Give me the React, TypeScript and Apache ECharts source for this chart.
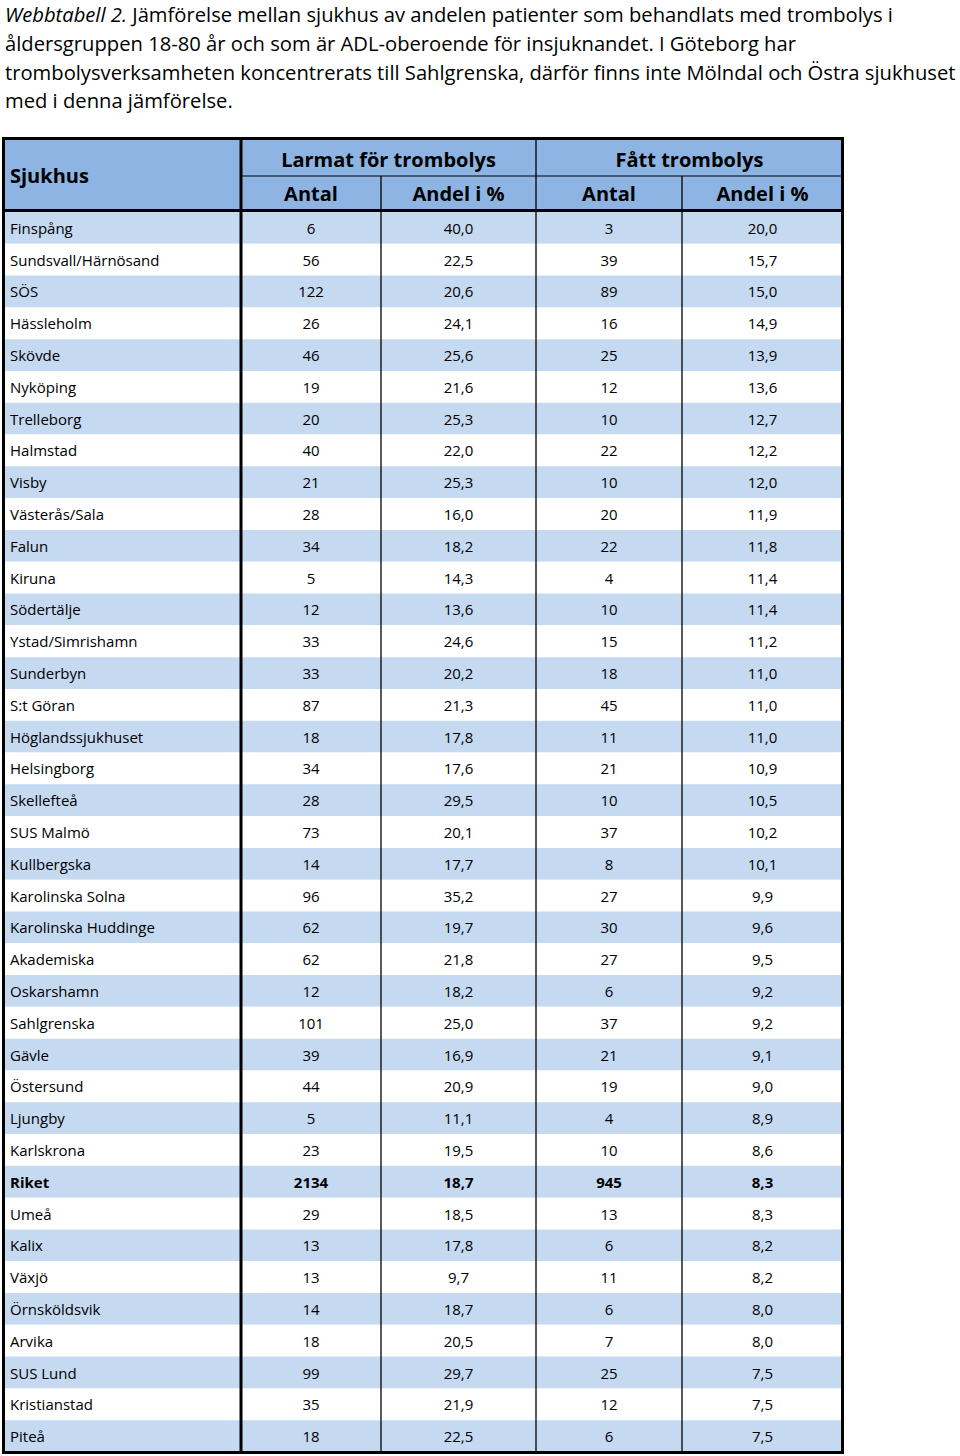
import React, { useEffect, useRef } from "react";
import * as echarts from "echarts";

const titleLines = [
  "{i|Webbtabell 2.} Jämförelse mellan sjukhus av andelen patienter som behandlats med trombolys i",
  "åldersgruppen 18-80 år och som är ADL-oberoende för insjuknandet. I Göteborg har",
  "trombolysverksamheten koncentrerats till Sahlgrenska, därför finns inte Mölndal och Östra sjukhuset",
  "med i denna jämförelse.",
];

const firstHeader = "Sjukhus";
const headerGroups = ["Larmat för trombolys", "Fått trombolys"];
const subHeaders = ["Antal", "Andel i %", "Antal", "Andel i %"];

const hospitals = [
  "Finspång", "Sundsvall/Härnösand", "SÖS", "Hässleholm", "Skövde", "Nyköping", "Trelleborg",
  "Halmstad", "Visby", "Västerås/Sala", "Falun", "Kiruna", "Södertälje", "Ystad/Simrishamn",
  "Sunderbyn", "S:t Göran", "Höglandssjukhuset", "Helsingborg", "Skellefteå", "SUS Malmö",
  "Kullbergska", "Karolinska Solna", "Karolinska Huddinge", "Akademiska", "Oskarshamn",
  "Sahlgrenska", "Gävle", "Östersund", "Ljungby", "Karlskrona", "Riket", "Umeå", "Kalix",
  "Växjö", "Örnsköldsvik", "Arvika", "SUS Lund", "Kristianstad", "Piteå",
];
const larmatAntal = [
  6, 56, 122, 26, 46, 19, 20, 40, 21, 28, 34, 5, 12, 33, 33, 87, 18, 34, 28, 73,
  14, 96, 62, 62, 12, 101, 39, 44, 5, 23, 2134, 29, 13, 13, 14, 18, 99, 35, 18,
];
const larmatAndel = [
  40.0, 22.5, 20.6, 24.1, 25.6, 21.6, 25.3, 22.0, 25.3, 16.0, 18.2, 14.3, 13.6, 24.6, 20.2,
  21.3, 17.8, 17.6, 29.5, 20.1, 17.7, 35.2, 19.7, 21.8, 18.2, 25.0, 16.9, 20.9, 11.1, 19.5,
  18.7, 18.5, 17.8, 9.7, 18.7, 20.5, 29.7, 21.9, 22.5,
];
const fattAntal = [
  3, 39, 89, 16, 25, 12, 10, 22, 10, 20, 22, 4, 10, 15, 18, 45, 11, 21, 10, 37,
  8, 27, 30, 27, 6, 37, 21, 19, 4, 10, 945, 13, 6, 11, 6, 7, 25, 12, 6,
];
const fattAndel = [
  20.0, 15.7, 15.0, 14.9, 13.9, 13.6, 12.7, 12.2, 12.0, 11.9, 11.8, 11.4, 11.4, 11.2, 11.0,
  11.0, 11.0, 10.9, 10.5, 10.2, 10.1, 9.9, 9.6, 9.5, 9.2, 9.2, 9.1, 9.0, 8.9, 8.6,
  8.3, 8.3, 8.2, 8.2, 8.0, 8.0, 7.5, 7.5, 7.5,
];
const boldRows = ["Riket"];

const FONT = "'Open Sans', 'Noto Sans', sans-serif";
const HEADER_BG = "#8db4e2";
const ROW_BG = "#c5d9f1";
// column edges (in px, relative to table left)
const EDGES = [0, 239, 379, 534, 680, 841];
const TABLE_LEFT = 2;

const fmt = (v: number) => v.toFixed(1).replace(".", ",");

export default function App() {
  const ref = useRef<HTMLDivElement>(null);
  useEffect(() => {
    if (!ref.current) return;
    const chart = echarts.init(ref.current, undefined, { renderer: "svg" });
    const data = hospitals.map((_, i) => [i, larmatAntal[i], larmatAndel[i], fattAntal[i], fattAndel[i]]);
    const abs = (e: number) => TABLE_LEFT + e;
    const tableTop = 138.5;
    const tableBottom = 1452.5;
    const headerMid = 176;
    const headerBottom = 210.5;
    const headStyle = { fontFamily: FONT, fontSize: 20, fontWeight: "bold", fill: "#000", verticalAlign: "middle" };

    const graphic: any[] = [
      { type: "rect", z: 50, shape: { x: 2, y: 139, width: 841, height: 72 }, style: { fill: HEADER_BG } },
      { type: "text", z: 60, x: 10, y: 175, style: { ...headStyle, text: firstHeader, align: "left" } },
      ...headerGroups.map((t, g) => ({
        type: "text", z: 60,
        x: (abs(EDGES[1 + g * 2]) + abs(EDGES[3 + g * 2])) / 2, y: 159,
        style: { ...headStyle, text: t, align: "center" },
      })),
      ...subHeaders.map((t, c) => ({
        type: "text", z: 60,
        x: (abs(EDGES[1 + c]) + abs(EDGES[2 + c])) / 2, y: 193,
        style: { ...headStyle, text: t, align: "center" },
      })),
      // thin lines
      { type: "line", z: 70, shape: { x1: abs(EDGES[1]), y1: headerMid, x2: abs(EDGES[5]), y2: headerMid }, style: { stroke: "#000", lineWidth: 1 } },
      { type: "line", z: 70, shape: { x1: abs(EDGES[3]), y1: tableTop, x2: abs(EDGES[3]), y2: tableBottom }, style: { stroke: "#000", lineWidth: 1.3 } },
      { type: "line", z: 70, shape: { x1: abs(EDGES[2]), y1: headerMid, x2: abs(EDGES[2]), y2: tableBottom }, style: { stroke: "#000", lineWidth: 1.3 } },
      { type: "line", z: 70, shape: { x1: abs(EDGES[4]), y1: headerMid, x2: abs(EDGES[4]), y2: tableBottom }, style: { stroke: "#000", lineWidth: 1.3 } },
      // thick lines
      { type: "line", z: 80, shape: { x1: 3.5, y1: headerBottom, x2: 842.5, y2: headerBottom }, style: { stroke: "#000", lineWidth: 3 } },
      { type: "line", z: 80, shape: { x1: abs(EDGES[1]), y1: tableTop, x2: abs(EDGES[1]), y2: tableBottom }, style: { stroke: "#000", lineWidth: 3 } },
      { type: "rect", z: 80, shape: { x: 3.5, y: tableTop, width: 839, height: tableBottom - tableTop }, style: { fill: "none", stroke: "#000", lineWidth: 3 } },
    ];

    chart.setOption({
      animation: false,
      title: {
        text: titleLines.join("\n"),
        left: 5,
        top: 0,
        padding: 0,
        textStyle: {
          fontFamily: FONT, fontSize: 20.2, fontWeight: "normal", color: "#000", lineHeight: 28.7,
          rich: { i: { fontFamily: FONT, fontSize: 20.2, fontStyle: "italic", color: "#000", lineHeight: 28.7 } },
        },
      },
      grid: { left: TABLE_LEFT, top: 212, width: 841, height: 1240 },
      xAxis: { type: "value", min: 0, max: 841, show: false },
      yAxis: { type: "category", data: hospitals, inverse: true, show: false },
      graphic,
      series: [
        {
          type: "custom",
          clip: false,
          encode: { x: 1, y: 0 },
          data,
          renderItem: (params: any, api: any) => {
            const r = api.value(0);
            const h = api.size([0, 1])[1];
            const p0 = api.coord([EDGES[0], r]);
            const p1 = api.coord([EDGES[5], r]);
            const bold = boldRows.includes(hospitals[r]);
            const base = { fontFamily: FONT, fontSize: 15, fontWeight: bold ? "bold" : "normal", fill: "#000", verticalAlign: "middle" };
            const children: any[] = [
              { type: "rect", shape: { x: p0[0], y: p0[1] - h / 2, width: p1[0] - p0[0], height: h }, style: { fill: r % 2 === 0 ? ROW_BG : "#ffffff" } },
              { type: "text", x: p0[0] + 8, y: p0[1], style: { ...base, text: hospitals[r], align: "left" } },
            ];
            for (let c = 1; c <= 4; c++) {
              const cx = api.coord([(EDGES[c] + EDGES[c + 1]) / 2, r])[0];
              const v = api.value(c);
              children.push({ type: "text", x: cx, y: p0[1], style: { ...base, text: c % 2 === 1 ? String(v) : fmt(v), align: "center" } });
            }
            return { type: "group", children };
          },
        },
      ],
    });
    return () => chart.dispose();
  }, []);
  return <div ref={ref} style={{ position: "absolute", left: 0, top: 0, width: 960, height: 1456 }} />;
}
